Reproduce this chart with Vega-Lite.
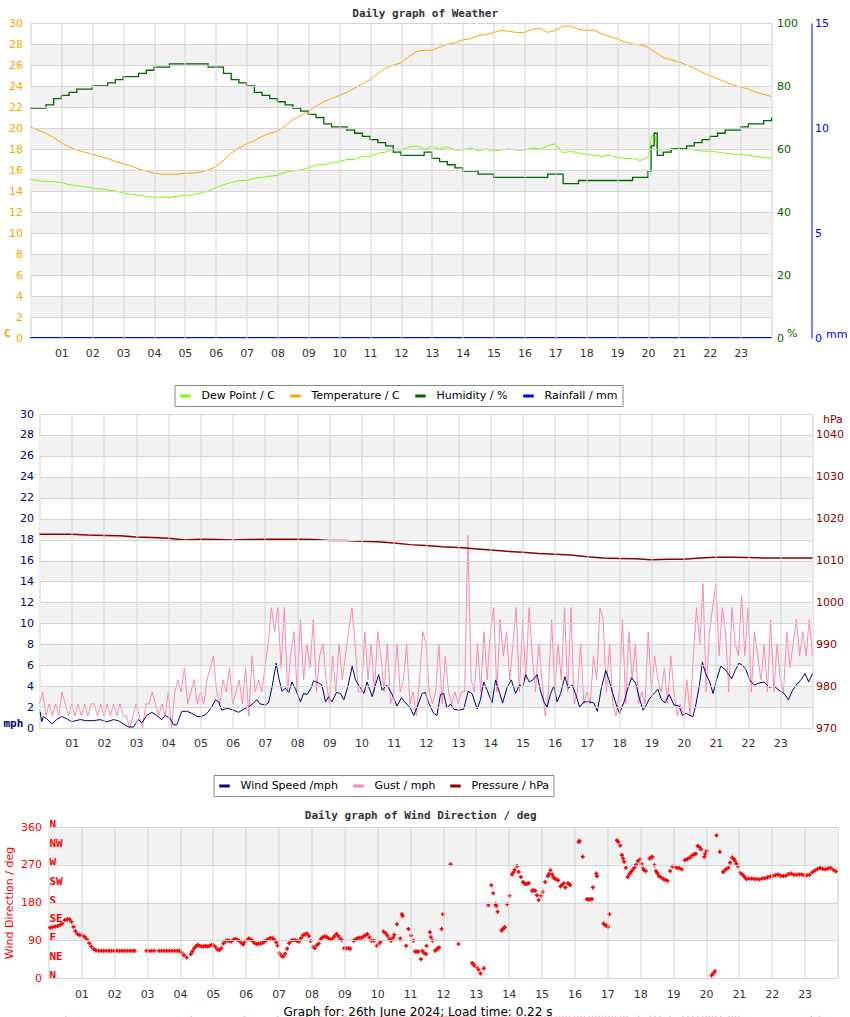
{
"$schema": "https://vega.github.io/schema/vega-lite/v6.json",
"padding": {"left": 1.5, "top": 7, "right": 0, "bottom": 0},
"config": {
  "view": {"stroke": "#cccccc"},
  "font": "DejaVu Sans",
  "axis": {"labelFont": "DejaVu Sans", "labelFontSize": 11, "titleFont": "DejaVu Sans", "titleFontSize": 11, "titleFontWeight": "normal", "ticks": false, "domain": false, "grid": false, "gridColor": "#d4d4d4", "labelColor": "#333333", "labelOverlap": false},
  "title": {"font": "DejaVu Sans Mono", "fontSize": 11, "fontWeight": "bold", "color": "#333333", "frame": "bounds", "offset": -2},
  "legend": {"strokeColor": "#888888", "fillColor": "#ffffff", "padding": 4, "symbolType": "stroke", "symbolStrokeWidth": 3, "symbolSize": 110, "labelFont": "DejaVu Sans", "labelFontSize": 11, "labelColor": "#000000", "columnPadding": 8, "labelOffset": 9}
},
"resolve": {"scale": {"color": "independent"}, "legend": {"color": "independent"}},
"datasets": {
  "bands": [{"lo":26,"hi":28},{"lo":22,"hi":24},{"lo":18,"hi":20},{"lo":14,"hi":16},{"lo":10,"hi":12},{"lo":6,"hi":8},{"lo":2,"hi":4}],
  "dirbands": [{"lo":270,"hi":360},{"lo":90,"hi":180}],
  "compass": [{"deg":0,"c":"N"},{"deg":45,"c":"NE"},{"deg":90,"c":"E"},{"deg":135,"c":"SE"},{"deg":180,"c":"S"},{"deg":225,"c":"SW"},{"deg":270,"c":"W"},{"deg":315,"c":"NW"},{"deg":360,"c":"N"}],
  "weather": [
{"h":0,"t":20.1,"d":15.1,"u":73,"r":0},{"h":0.25,"t":19.8,"d":15.0,"u":73,"r":0},{"h":0.5,"t":19.5,"d":14.9,"u":74,"r":0},{"h":0.75,"t":19.1,"d":14.9,"u":76,"r":0},
{"h":1,"t":18.6,"d":14.8,"u":77,"r":0},{"h":1.25,"t":18.2,"d":14.6,"u":78,"r":0},{"h":1.5,"t":17.9,"d":14.5,"u":79,"r":0},{"h":1.75,"t":17.7,"d":14.4,"u":79,"r":0},
{"h":2,"t":17.5,"d":14.3,"u":80,"r":0},{"h":2.25,"t":17.3,"d":14.2,"u":80,"r":0},{"h":2.5,"t":17.1,"d":14.1,"u":81,"r":0},{"h":2.75,"t":16.8,"d":14.0,"u":82,"r":0},
{"h":3,"t":16.6,"d":13.8,"u":83,"r":0},{"h":3.25,"t":16.4,"d":13.7,"u":83,"r":0},{"h":3.5,"t":16.1,"d":13.6,"u":84,"r":0},{"h":3.75,"t":15.9,"d":13.5,"u":85,"r":0},
{"h":4,"t":15.7,"d":13.4,"u":86,"r":0},{"h":4.25,"t":15.6,"d":13.4,"u":86,"r":0},{"h":4.5,"t":15.6,"d":13.4,"u":87,"r":0},{"h":4.75,"t":15.6,"d":13.5,"u":87,"r":0},
{"h":5,"t":15.7,"d":13.6,"u":87,"r":0},{"h":5.25,"t":15.7,"d":13.6,"u":87,"r":0},{"h":5.5,"t":15.8,"d":13.8,"u":87,"r":0},{"h":5.75,"t":16.0,"d":14.0,"u":86,"r":0},
{"h":6,"t":16.3,"d":14.3,"u":86,"r":0},{"h":6.25,"t":16.9,"d":14.6,"u":84,"r":0},{"h":6.5,"t":17.6,"d":14.8,"u":82,"r":0},{"h":6.75,"t":18.1,"d":15.0,"u":81,"r":0},
{"h":7,"t":18.5,"d":15.0,"u":80,"r":0},{"h":7.25,"t":18.8,"d":15.2,"u":78,"r":0},{"h":7.5,"t":19.2,"d":15.3,"u":77,"r":0},{"h":7.75,"t":19.5,"d":15.4,"u":76,"r":0},
{"h":8,"t":19.7,"d":15.5,"u":75,"r":0},{"h":8.25,"t":20.2,"d":15.8,"u":74,"r":0},{"h":8.5,"t":20.8,"d":15.9,"u":73,"r":0},{"h":8.75,"t":21.2,"d":16.0,"u":72,"r":0},
{"h":9,"t":21.6,"d":16.2,"u":71,"r":0},{"h":9.25,"t":22.1,"d":16.5,"u":70,"r":0},{"h":9.5,"t":22.5,"d":16.5,"u":68,"r":0},{"h":9.75,"t":22.8,"d":16.7,"u":67,"r":0},
{"h":10,"t":23.1,"d":16.8,"u":67,"r":0},{"h":10.25,"t":23.4,"d":17.0,"u":66,"r":0},{"h":10.5,"t":23.8,"d":17.0,"u":65,"r":0},{"h":10.75,"t":24.2,"d":17.3,"u":64,"r":0},
{"h":11,"t":24.6,"d":17.3,"u":63,"r":0},{"h":11.25,"t":25.2,"d":17.6,"u":62,"r":0},{"h":11.5,"t":25.7,"d":17.7,"u":61,"r":0},{"h":11.75,"t":26.0,"d":18.0,"u":59,"r":0},
{"h":12,"t":26.2,"d":17.9,"u":58,"r":0},{"h":12.25,"t":26.8,"d":18.2,"u":58,"r":0},{"h":12.5,"t":27.3,"d":18.3,"u":58,"r":0},{"h":12.75,"t":27.4,"d":18.0,"u":59,"r":0},
{"h":13,"t":27.4,"d":18.2,"u":57,"r":0},{"h":13.25,"t":27.7,"d":18.0,"u":56,"r":0},{"h":13.5,"t":28.0,"d":18.2,"u":55,"r":0},{"h":13.75,"t":28.1,"d":17.9,"u":54,"r":0},
{"h":14,"t":28.4,"d":17.9,"u":53,"r":0},{"h":14.25,"t":28.5,"d":18.1,"u":53,"r":0},{"h":14.5,"t":28.8,"d":17.8,"u":52,"r":0},{"h":14.75,"t":28.9,"d":18.0,"u":52,"r":0},
{"h":15,"t":29.1,"d":17.8,"u":51,"r":0},{"h":15.25,"t":29.3,"d":17.9,"u":51,"r":0},{"h":15.5,"t":29.2,"d":18.0,"u":51,"r":0},{"h":15.75,"t":29.1,"d":17.9,"u":51,"r":0},
{"h":16,"t":29.1,"d":17.9,"u":51,"r":0},{"h":16.25,"t":29.4,"d":18.1,"u":51,"r":0},{"h":16.5,"t":29.5,"d":18.0,"u":51,"r":0},{"h":16.75,"t":29.1,"d":18.3,"u":52,"r":0},
{"h":17,"t":29.3,"d":18.5,"u":52,"r":0},{"h":17.25,"t":29.7,"d":17.6,"u":49,"r":0},{"h":17.5,"t":29.7,"d":17.8,"u":49,"r":0},{"h":17.75,"t":29.4,"d":17.6,"u":50,"r":0},
{"h":18,"t":29.3,"d":17.5,"u":50,"r":0},{"h":18.25,"t":29.3,"d":17.4,"u":50,"r":0},{"h":18.5,"t":29.0,"d":17.3,"u":50,"r":0},{"h":18.75,"t":28.7,"d":17.4,"u":50,"r":0},
{"h":19,"t":28.5,"d":17.2,"u":50,"r":0},{"h":19.25,"t":28.2,"d":17.1,"u":50,"r":0},{"h":19.5,"t":28.0,"d":17.1,"u":51,"r":0},{"h":19.75,"t":27.9,"d":16.9,"u":51,"r":0},
{"h":20,"t":27.7,"d":17.2,"u":53,"r":0},{"h":20.1,"t":27.5,"d":19.0,"u":61,"r":0},{"h":20.2,"t":27.3,"d":19.6,"u":65,"r":0},{"h":20.3,"t":27.1,"d":18.0,"u":58,"r":0},
{"h":20.5,"t":26.7,"d":17.6,"u":59,"r":0},{"h":20.75,"t":26.5,"d":17.9,"u":60,"r":0},
{"h":21,"t":26.3,"d":18.1,"u":60,"r":0},{"h":21.25,"t":26.0,"d":18.0,"u":61,"r":0},{"h":21.5,"t":25.7,"d":17.9,"u":62,"r":0},{"h":21.75,"t":25.3,"d":17.8,"u":63,"r":0},
{"h":22,"t":25.0,"d":17.8,"u":64,"r":0},{"h":22.25,"t":24.7,"d":17.7,"u":65,"r":0},{"h":22.5,"t":24.4,"d":17.6,"u":66,"r":0},{"h":22.75,"t":24.1,"d":17.5,"u":66,"r":0},
{"h":23,"t":23.9,"d":17.5,"u":67,"r":0},{"h":23.25,"t":23.7,"d":17.4,"u":68,"r":0},{"h":23.5,"t":23.4,"d":17.3,"u":68,"r":0},{"h":23.75,"t":23.2,"d":17.2,"u":69,"r":0},
{"h":24,"t":23.0,"d":17.1,"u":70,"r":0}
  ],
  "wind": [
{"h":0.02,"w":1.56},{"h":0.07,"w":0.6},{"h":0.12,"w":1.1},{"h":0.22,"w":0.9},{"h":0.38,"w":0.4},{"h":0.53,"w":0.8},{"h":0.69,"w":1.1},{"h":0.84,"w":0.9},{"h":1.0,"w":0.6},{"h":1.26,"w":0.8},{"h":1.47,"w":0.7},{"h":1.67,"w":0.7},{"h":1.88,"w":0.8},{"h":2.09,"w":0.6},{"h":2.3,"w":0.8},{"h":2.45,"w":0.7},{"h":2.6,"w":0.4},{"h":2.76,"w":0.1},{"h":2.92,"w":0.1},{"h":3.07,"w":0.8},{"h":3.18,"w":0.5},{"h":3.33,"w":1.2},{"h":3.49,"w":1.5},{"h":3.64,"w":1.2},{"h":3.8,"w":0.8},{"h":3.9,"w":1.2},{"h":4.06,"w":0.9},{"h":4.16,"w":0.3},{"h":4.26,"w":0.3},{"h":4.42,"w":1.6},{"h":4.57,"w":1.6},{"h":4.73,"w":1.4},{"h":4.89,"w":1.1},{"h":5.04,"w":1.1},{"h":5.2,"w":1.4},{"h":5.35,"w":2.0},{"h":5.46,"w":2.7},{"h":5.56,"w":2.5},{"h":5.66,"w":1.7},{"h":5.82,"w":1.9},{"h":6.03,"w":1.7},{"h":6.18,"w":1.5},{"h":6.34,"w":1.8},{"h":6.49,"w":2.0},{"h":6.65,"w":2.4},{"h":6.75,"w":2.7},{"h":6.85,"w":2.3},{"h":7.01,"w":2.2},{"h":7.11,"w":2.4},{"h":7.22,"w":3.9},{"h":7.35,"w":6.2},{"h":7.42,"w":4.9},{"h":7.53,"w":3.5},{"h":7.63,"w":3.8},{"h":7.74,"w":3.4},{"h":7.84,"w":4.4},{"h":7.95,"w":3.7},{"h":8.1,"w":2.5},{"h":8.2,"w":3.3},{"h":8.31,"w":3.2},{"h":8.43,"w":3.8},{"h":8.51,"w":4.5},{"h":8.67,"w":4.3},{"h":8.77,"w":4.1},{"h":8.88,"w":2.5},{"h":8.98,"w":3.0},{"h":9.08,"w":2.5},{"h":9.22,"w":3.4},{"h":9.34,"w":3.3},{"h":9.45,"w":2.7},{"h":9.57,"w":3.9},{"h":9.71,"w":5.9},{"h":9.81,"w":4.6},{"h":9.95,"w":3.9},{"h":10.07,"w":3.3},{"h":10.17,"w":4.4},{"h":10.33,"w":3.0},{"h":10.43,"w":4.1},{"h":10.53,"w":5.1},{"h":10.64,"w":3.6},{"h":10.79,"w":4.1},{"h":10.95,"w":3.2},{"h":11.1,"w":2.1},{"h":11.24,"w":2.9},{"h":11.36,"w":2.4},{"h":11.5,"w":2.0},{"h":11.62,"w":1.2},{"h":11.75,"w":2.2},{"h":11.88,"w":3.3},{"h":11.98,"w":3.4},{"h":12.08,"w":2.4},{"h":12.24,"w":1.4},{"h":12.34,"w":1.2},{"h":12.45,"w":3.2},{"h":12.55,"w":3.3},{"h":12.65,"w":1.9},{"h":12.76,"w":2.3},{"h":12.86,"w":1.8},{"h":13.02,"w":1.7},{"h":13.17,"w":1.8},{"h":13.31,"w":3.5},{"h":13.43,"w":3.3},{"h":13.59,"w":1.8},{"h":13.69,"w":2.7},{"h":13.79,"w":4.4},{"h":13.9,"w":3.6},{"h":14.05,"w":2.4},{"h":14.16,"w":4.6},{"h":14.28,"w":3.4},{"h":14.38,"w":2.4},{"h":14.52,"w":3.9},{"h":14.65,"w":4.6},{"h":14.78,"w":3.3},{"h":14.9,"w":4.1},{"h":15.01,"w":3.9},{"h":15.09,"w":5.1},{"h":15.21,"w":4.4},{"h":15.32,"w":4.6},{"h":15.45,"w":5.1},{"h":15.55,"w":3.6},{"h":15.66,"w":2.5},{"h":15.76,"w":2.0},{"h":15.87,"w":3.3},{"h":15.97,"w":4.0},{"h":16.07,"w":2.5},{"h":16.18,"w":3.3},{"h":16.31,"w":4.9},{"h":16.42,"w":3.8},{"h":16.54,"w":4.1},{"h":16.64,"w":3.3},{"h":16.77,"w":2.0},{"h":16.9,"w":2.5},{"h":17.06,"w":2.5},{"h":17.21,"w":2.4},{"h":17.32,"w":1.6},{"h":17.45,"w":3.9},{"h":17.58,"w":5.5},{"h":17.68,"w":4.6},{"h":17.8,"w":3.3},{"h":17.91,"w":2.2},{"h":18.01,"w":1.4},{"h":18.15,"w":2.5},{"h":18.25,"w":3.6},{"h":18.38,"w":4.8},{"h":18.51,"w":4.3},{"h":18.63,"w":2.8},{"h":18.74,"w":1.7},{"h":18.84,"w":2.2},{"h":18.94,"w":2.8},{"h":19.08,"w":3.3},{"h":19.2,"w":3.7},{"h":19.31,"w":2.7},{"h":19.42,"w":2.4},{"h":19.55,"w":3.2},{"h":19.7,"w":2.2},{"h":19.86,"w":2.1},{"h":19.96,"w":1.2},{"h":20.08,"w":1.4},{"h":20.19,"w":1.2},{"h":20.29,"w":1.1},{"h":20.39,"w":2.4},{"h":20.5,"w":4.3},{"h":20.58,"w":6.3},{"h":20.68,"w":5.2},{"h":20.81,"w":4.4},{"h":20.91,"w":3.3},{"h":21.02,"w":4.6},{"h":21.15,"w":5.9},{"h":21.25,"w":5.7},{"h":21.36,"w":5.3},{"h":21.49,"w":4.7},{"h":21.6,"w":5.5},{"h":21.72,"w":6.2},{"h":21.82,"w":6.0},{"h":21.93,"w":5.6},{"h":22.05,"w":4.6},{"h":22.19,"w":4.1},{"h":22.34,"w":4.3},{"h":22.5,"w":4.4},{"h":22.65,"w":3.9},{"h":22.81,"w":4.0},{"h":22.96,"w":3.6},{"h":23.12,"w":3.3},{"h":23.25,"w":2.7},{"h":23.38,"w":3.6},{"h":23.5,"w":4.1},{"h":23.64,"w":4.6},{"h":23.77,"w":5.2},{"h":23.88,"w":4.4},{"h":24.0,"w":5.2}
  ],
  "gust": [
{"h":0.0,"g":2.3},{"h":0.1,"g":3.45},{"h":0.2,"g":1.15},{"h":0.3,"g":2.3},{"h":0.4,"g":1.15},{"h":0.5,"g":2.3},{"h":0.6,"g":1.15},{"h":0.7,"g":3.45},{"h":0.8,"g":2.3},{"h":0.9,"g":1.15},
{"h":1.0,"g":2.3},{"h":1.1,"g":1.15},{"h":1.2,"g":2.3},{"h":1.3,"g":1.15},{"h":1.4,"g":2.3},{"h":1.5,"g":1.15},{"h":1.6,"g":2.3},{"h":1.7,"g":2.3},{"h":1.8,"g":1.15},{"h":1.9,"g":2.3},
{"h":2.0,"g":1.15},{"h":2.1,"g":2.3},{"h":2.2,"g":1.15},{"h":2.3,"g":2.3},{"h":2.4,"g":1.15},{"h":2.5,"g":2.3},{"h":2.6,"g":1.15},{"h":2.7,"g":1.15},{"h":2.8,"g":0},{"h":2.9,"g":1.15},
{"h":3.0,"g":2.3},{"h":3.1,"g":1.15},{"h":3.2,"g":0},{"h":3.3,"g":2.3},{"h":3.4,"g":2.3},{"h":3.5,"g":3.45},{"h":3.6,"g":2.3},{"h":3.7,"g":1.15},{"h":3.8,"g":2.3},{"h":3.9,"g":1.15},
{"h":4.0,"g":3.45},{"h":4.1,"g":0},{"h":4.2,"g":3.45},{"h":4.3,"g":4.6},{"h":4.4,"g":3.45},{"h":4.5,"g":5.75},{"h":4.6,"g":2.3},{"h":4.7,"g":3.45},{"h":4.8,"g":4.6},{"h":4.9,"g":2.3},
{"h":5.0,"g":3.45},{"h":5.1,"g":2.3},{"h":5.2,"g":4.6},{"h":5.3,"g":5.75},{"h":5.4,"g":6.9},{"h":5.5,"g":3.45},{"h":5.6,"g":2.3},{"h":5.7,"g":4.6},{"h":5.8,"g":3.45},{"h":5.9,"g":5.75},
{"h":6.0,"g":2.3},{"h":6.1,"g":3.45},{"h":6.2,"g":4.6},{"h":6.3,"g":2.3},{"h":6.4,"g":5.75},{"h":6.5,"g":1.15},{"h":6.6,"g":6.9},{"h":6.7,"g":3.45},{"h":6.8,"g":4.6},{"h":6.9,"g":3.45},
{"h":7.0,"g":5.75},{"h":7.1,"g":8.05},{"h":7.2,"g":11.5},{"h":7.3,"g":9.2},{"h":7.4,"g":11.5},{"h":7.5,"g":5.75},{"h":7.6,"g":11.5},{"h":7.7,"g":3.45},{"h":7.8,"g":6.9},{"h":7.9,"g":9.2},
{"h":8.0,"g":3.45},{"h":8.1,"g":10.35},{"h":8.2,"g":4.6},{"h":8.3,"g":8.05},{"h":8.4,"g":5.75},{"h":8.5,"g":10.35},{"h":8.6,"g":3.45},{"h":8.7,"g":6.9},{"h":8.8,"g":8.05},{"h":8.9,"g":4.6},
{"h":9.0,"g":2.3},{"h":9.1,"g":6.9},{"h":9.2,"g":3.45},{"h":9.3,"g":8.05},{"h":9.4,"g":4.6},{"h":9.5,"g":6.9},{"h":9.6,"g":9.2},{"h":9.7,"g":11.5},{"h":9.8,"g":8.05},{"h":9.9,"g":3.45},
{"h":10.0,"g":3.45},{"h":10.1,"g":9.2},{"h":10.2,"g":4.6},{"h":10.3,"g":8.05},{"h":10.4,"g":3.45},{"h":10.5,"g":9.2},{"h":10.6,"g":6.9},{"h":10.7,"g":3.45},{"h":10.8,"g":8.05},{"h":10.9,"g":2.3},
{"h":11.0,"g":3.45},{"h":11.1,"g":8.05},{"h":11.2,"g":3.45},{"h":11.3,"g":4.6},{"h":11.4,"g":8.05},{"h":11.5,"g":2.3},{"h":11.6,"g":3.45},{"h":11.7,"g":1.15},{"h":11.8,"g":4.6},{"h":11.9,"g":9.2},
{"h":12.0,"g":8.05},{"h":12.1,"g":3.45},{"h":12.2,"g":2.3},{"h":12.3,"g":3.45},{"h":12.4,"g":8.05},{"h":12.5,"g":2.3},{"h":12.6,"g":6.9},{"h":12.7,"g":3.45},{"h":12.8,"g":2.3},{"h":12.9,"g":3.45},
{"h":13.0,"g":2.3},{"h":13.1,"g":3.45},{"h":13.2,"g":3.45},{"h":13.3,"g":18.4},{"h":13.4,"g":4.6},{"h":13.5,"g":3.45},{"h":13.6,"g":8.05},{"h":13.7,"g":3.45},{"h":13.8,"g":9.2},{"h":13.9,"g":4.6},
{"h":14.0,"g":9.2},{"h":14.1,"g":11.5},{"h":14.2,"g":3.45},{"h":14.3,"g":10.35},{"h":14.4,"g":6.9},{"h":14.5,"g":9.2},{"h":14.6,"g":4.6},{"h":14.7,"g":8.05},{"h":14.8,"g":11.5},{"h":14.9,"g":3.45},
{"h":15.0,"g":10.35},{"h":15.1,"g":4.6},{"h":15.2,"g":11.5},{"h":15.3,"g":6.9},{"h":15.4,"g":3.45},{"h":15.5,"g":8.05},{"h":15.6,"g":4.6},{"h":15.7,"g":1.15},{"h":15.8,"g":3.45},{"h":15.9,"g":10.35},
{"h":16.0,"g":3.45},{"h":16.1,"g":8.05},{"h":16.2,"g":4.6},{"h":16.3,"g":11.5},{"h":16.4,"g":3.45},{"h":16.5,"g":11.5},{"h":16.6,"g":2.3},{"h":16.7,"g":3.45},{"h":16.8,"g":8.05},{"h":16.9,"g":2.3},
{"h":17.0,"g":3.45},{"h":17.1,"g":2.3},{"h":17.2,"g":6.9},{"h":17.3,"g":4.6},{"h":17.4,"g":11.5},{"h":17.5,"g":10.35},{"h":17.6,"g":3.45},{"h":17.7,"g":8.05},{"h":17.8,"g":2.3},{"h":17.9,"g":1.15},
{"h":18.0,"g":3.45},{"h":18.1,"g":10.35},{"h":18.2,"g":2.3},{"h":18.3,"g":9.2},{"h":18.4,"g":4.6},{"h":18.5,"g":8.05},{"h":18.6,"g":2.3},{"h":18.7,"g":3.45},{"h":18.8,"g":2.3},{"h":18.9,"g":9.2},
{"h":19.0,"g":3.45},{"h":19.1,"g":6.9},{"h":19.2,"g":4.6},{"h":19.3,"g":3.45},{"h":19.4,"g":5.75},{"h":19.5,"g":2.3},{"h":19.6,"g":6.9},{"h":19.7,"g":3.45},{"h":19.8,"g":1.15},{"h":19.9,"g":2.3},
{"h":20.0,"g":1.15},{"h":20.1,"g":4.6},{"h":20.2,"g":1.15},{"h":20.3,"g":6.9},{"h":20.4,"g":11.5},{"h":20.5,"g":8.05},{"h":20.6,"g":13.8},{"h":20.7,"g":3.45},{"h":20.8,"g":9.2},{"h":20.9,"g":11.5},
{"h":21.0,"g":13.8},{"h":21.1,"g":6.9},{"h":21.2,"g":11.5},{"h":21.3,"g":9.2},{"h":21.4,"g":3.45},{"h":21.5,"g":11.5},{"h":21.6,"g":8.05},{"h":21.7,"g":6.9},{"h":21.8,"g":12.65},{"h":21.9,"g":6.9},
{"h":22.0,"g":11.5},{"h":22.1,"g":3.45},{"h":22.2,"g":9.2},{"h":22.3,"g":6.9},{"h":22.4,"g":4.6},{"h":22.5,"g":8.05},{"h":22.6,"g":3.45},{"h":22.7,"g":10.35},{"h":22.8,"g":3.45},{"h":22.9,"g":8.05},
{"h":23.0,"g":4.6},{"h":23.1,"g":3.45},{"h":23.2,"g":9.2},{"h":23.3,"g":5.75},{"h":23.4,"g":8.05},{"h":23.5,"g":10.35},{"h":23.6,"g":6.9},{"h":23.7,"g":9.2},{"h":23.8,"g":6.9},{"h":23.9,"g":10.35},{"h":24.0,"g":6.9}
  ],
  "press": [
{"h":0,"p":1016.3},{"h":0.5,"p":1016.3},{"h":1,"p":1016.3},{"h":1.5,"p":1016.1},{"h":2,"p":1016.0},{"h":2.5,"p":1015.9},{"h":3,"p":1015.6},{"h":3.5,"p":1015.5},{"h":4,"p":1015.3},{"h":4.5,"p":1014.9},{"h":5,"p":1015.1},{"h":5.5,"p":1015.0},{"h":6,"p":1014.9},{"h":6.5,"p":1015.0},{"h":7,"p":1015.1},{"h":7.5,"p":1015.1},{"h":8,"p":1015.1},{"h":8.5,"p":1015.0},{"h":9,"p":1014.8},{"h":9.5,"p":1014.8},{"h":10,"p":1014.6},{"h":10.5,"p":1014.5},{"h":11,"p":1014.2},{"h":11.5,"p":1013.8},{"h":12,"p":1013.6},{"h":12.5,"p":1013.3},{"h":13,"p":1013.1},{"h":13.5,"p":1012.8},{"h":14,"p":1012.5},{"h":14.5,"p":1012.2},{"h":15,"p":1012.0},{"h":15.5,"p":1011.7},{"h":16,"p":1011.5},{"h":16.5,"p":1011.3},{"h":17,"p":1010.9},{"h":17.5,"p":1010.6},{"h":18,"p":1010.5},{"h":18.5,"p":1010.4},{"h":19,"p":1010.2},{"h":19.5,"p":1010.3},{"h":20,"p":1010.3},{"h":20.5,"p":1010.6},{"h":21,"p":1010.8},{"h":21.5,"p":1010.8},{"h":22,"p":1010.7},{"h":22.5,"p":1010.6},{"h":23,"p":1010.6},{"h":23.5,"p":1010.6},{"h":24,"p":1010.6}
  ],
  "dir": [
{"h":0.05,"d":120},{"h":0.12,"d":121},{"h":0.2,"d":123},{"h":0.28,"d":124},{"h":0.36,"d":127},{"h":0.42,"d":130},{"h":0.5,"d":138},{"h":0.57,"d":140},{"h":0.64,"d":140},{"h":0.7,"d":134},{"h":0.76,"d":122},{"h":0.82,"d":112},{"h":0.88,"d":105},{"h":0.95,"d":102},{"h":1.02,"d":102},{"h":1.1,"d":98},{"h":1.17,"d":92},{"h":1.24,"d":83},{"h":1.3,"d":75},{"h":1.37,"d":69},{"h":1.44,"d":66},
{"h":1.52,"d":65},{"h":1.6,"d":65},{"h":1.68,"d":65},{"h":1.76,"d":65},{"h":1.84,"d":65},{"h":1.92,"d":65},{"h":2.0,"d":65},{"h":2.08,"d":65},{"h":2.16,"d":65},{"h":2.24,"d":65},{"h":2.32,"d":65},{"h":2.4,"d":65},{"h":2.48,"d":65},{"h":2.56,"d":65},{"h":2.62,"d":65},
{"h":2.98,"d":65},{"h":3.06,"d":65},{"h":3.14,"d":65},{"h":3.22,"d":65},{"h":3.36,"d":65},{"h":3.44,"d":65},{"h":3.52,"d":65},{"h":3.6,"d":65},{"h":3.68,"d":65},{"h":3.76,"d":65},{"h":3.84,"d":65},{"h":3.92,"d":65},{"h":3.98,"d":65},{"h":4.04,"d":61},{"h":4.12,"d":55},{"h":4.2,"d":49},
{"h":4.33,"d":57},{"h":4.38,"d":64},{"h":4.43,"d":71},{"h":4.49,"d":76},{"h":4.54,"d":79},{"h":4.6,"d":77},{"h":4.66,"d":75},{"h":4.72,"d":75},{"h":4.78,"d":76},{"h":4.84,"d":75},{"h":4.9,"d":77},{"h":4.96,"d":79},{"h":5.02,"d":78},{"h":5.08,"d":74},{"h":5.14,"d":68},{"h":5.2,"d":67},{"h":5.26,"d":71},{"h":5.32,"d":82},{"h":5.38,"d":87},{"h":5.44,"d":90},{"h":5.5,"d":88},{"h":5.56,"d":87},{"h":5.62,"d":91},{"h":5.68,"d":93},{"h":5.74,"d":91},{"h":5.8,"d":89},{"h":5.86,"d":84},{"h":5.92,"d":80},{"h":5.97,"d":86},{"h":6.03,"d":91},{"h":6.09,"d":94},{"h":6.15,"d":92},{"h":6.21,"d":88},{"h":6.27,"d":83},{"h":6.33,"d":81},{"h":6.39,"d":82},{"h":6.45,"d":82},{"h":6.51,"d":84},{"h":6.57,"d":87},{"h":6.63,"d":90},{"h":6.69,"d":93},{"h":6.75,"d":96},{"h":6.81,"d":95},{"h":6.87,"d":91},{"h":6.93,"d":85},{"h":6.97,"d":77},
{"h":7.02,"d":59},{"h":7.08,"d":53},{"h":7.14,"d":51},{"h":7.2,"d":58},{"h":7.26,"d":70},{"h":7.32,"d":83},{"h":7.38,"d":89},{"h":7.44,"d":90},{"h":7.5,"d":90},{"h":7.56,"d":88},{"h":7.62,"d":87},{"h":7.68,"d":95},{"h":7.74,"d":102},{"h":7.8,"d":104},{"h":7.86,"d":106},{"h":7.92,"d":100},{"h":7.98,"d":88},{"h":8.04,"d":74},{"h":8.1,"d":71},{"h":8.16,"d":78},{"h":8.22,"d":82},{"h":8.28,"d":93},{"h":8.34,"d":97},{"h":8.4,"d":99},{"h":8.46,"d":98},{"h":8.52,"d":94},{"h":8.58,"d":92},{"h":8.64,"d":94},{"h":8.7,"d":100},{"h":8.76,"d":105},{"h":8.82,"d":100},{"h":8.88,"d":93},{"h":8.92,"d":90},
{"h":8.99,"d":71},{"h":9.05,"d":71},{"h":9.12,"d":71},{"h":9.18,"d":70},{"h":9.28,"d":89},{"h":9.34,"d":92},{"h":9.4,"d":95},{"h":9.46,"d":96},{"h":9.52,"d":96},{"h":9.58,"d":99},{"h":9.64,"d":102},{"h":9.7,"d":105},{"h":9.76,"d":97},{"h":9.82,"d":89},{"h":9.9,"d":89},{"h":9.99,"d":77},{"h":10.05,"d":82},{"h":10.1,"d":86},{"h":10.19,"d":111},{"h":10.25,"d":107},{"h":10.31,"d":101},{"h":10.37,"d":93},{"h":10.42,"d":89},{"h":10.48,"d":96},{"h":10.52,"d":103},{"h":10.6,"d":128},{"h":10.7,"d":94},{"h":10.75,"d":152},{"h":10.77,"d":148},{"h":10.88,"d":77},{"h":10.95,"d":117},{"h":11.03,"d":101},{"h":11.1,"d":89},{"h":11.15,"d":63},{"h":11.2,"d":63},{"h":11.25,"d":63},{"h":11.33,"d":45},{"h":11.37,"d":65},{"h":11.42,"d":60},{"h":11.48,"d":57},{"h":11.5,"d":77},{"h":11.6,"d":109},{"h":11.63,"d":97},{"h":11.68,"d":89},{"h":11.76,"d":65},{"h":11.8,"d":68},{"h":11.85,"d":71},{"h":11.88,"d":73},{"h":11.96,"d":117},{"h":12.0,"d":152},
{"h":12.23,"d":271},{"h":12.47,"d":81},{"h":12.89,"d":36},{"h":12.93,"d":32},{"h":12.97,"d":29},{"h":13.02,"d":25},{"h":13.08,"d":20},{"h":13.14,"d":11},{"h":13.24,"d":23},{"h":13.38,"d":174},{"h":13.47,"d":221},{"h":13.53,"d":202},{"h":13.6,"d":176},{"h":13.62,"d":172},{"h":13.66,"d":158},{"h":13.78,"d":113},{"h":13.82,"d":117},{"h":13.86,"d":120},{"h":13.88,"d":121},{"h":13.96,"d":176},{"h":14.02,"d":196},
{"h":14.1,"d":247},{"h":14.14,"d":252},{"h":14.18,"d":258},{"h":14.25,"d":267},{"h":14.3,"d":253},{"h":14.37,"d":241},{"h":14.43,"d":229},{"h":14.47,"d":226},{"h":14.51,"d":224},{"h":14.56,"d":225},{"h":14.61,"d":226},{"h":14.71,"d":208},{"h":14.75,"d":209},{"h":14.81,"d":208},{"h":14.86,"d":197},{"h":14.91,"d":186},{"h":14.99,"d":196},{"h":15.03,"d":205},{"h":15.11,"d":229},{"h":15.19,"d":243},{"h":15.22,"d":248},{"h":15.27,"d":257},{"h":15.32,"d":247},{"h":15.36,"d":240},{"h":15.4,"d":237},{"h":15.45,"d":235},{"h":15.5,"d":233},{"h":15.57,"d":218},{"h":15.62,"d":222},{"h":15.67,"d":226},{"h":15.72,"d":216},{"h":15.8,"d":226},{"h":15.84,"d":224},{"h":15.87,"d":221},
{"h":16.13,"d":324},{"h":16.15,"d":327},{"h":16.25,"d":289},{"h":16.38,"d":188},{"h":16.42,"d":187},{"h":16.47,"d":188},{"h":16.53,"d":188},{"h":16.56,"d":216},{"h":16.66,"d":249},{"h":16.68,"d":243},{"h":16.88,"d":130},{"h":16.93,"d":126},{"h":16.97,"d":125},{"h":17.02,"d":122},{"h":17.06,"d":152},
{"h":17.29,"d":328},{"h":17.33,"d":325},{"h":17.39,"d":316},{"h":17.44,"d":293},{"h":17.48,"d":285},{"h":17.51,"d":277},{"h":17.56,"d":263},{"h":17.62,"d":241},{"h":17.67,"d":248},{"h":17.72,"d":253},{"h":17.77,"d":258},{"h":17.82,"d":263},{"h":17.87,"d":270},{"h":17.93,"d":279},{"h":18.0,"d":283},{"h":18.04,"d":272},{"h":18.08,"d":261},{"h":18.12,"d":257},{"h":18.17,"d":255},{"h":18.28,"d":285},{"h":18.33,"d":287},{"h":18.37,"d":289},{"h":18.43,"d":269},{"h":18.48,"d":255},{"h":18.52,"d":250},{"h":18.57,"d":243},{"h":18.63,"d":240},{"h":18.7,"d":236},{"h":18.76,"d":234},{"h":18.83,"d":232},
{"h":18.91,"d":255},{"h":18.98,"d":266},{"h":19.04,"d":265},{"h":19.11,"d":263},{"h":19.18,"d":262},{"h":19.26,"d":259},{"h":19.36,"d":281},{"h":19.43,"d":284},{"h":19.51,"d":287},{"h":19.58,"d":292},{"h":19.64,"d":295},{"h":19.69,"d":296},{"h":19.75,"d":315},{"h":19.8,"d":312},{"h":19.85,"d":307},{"h":19.95,"d":289},{"h":19.98,"d":296},{"h":20.02,"d":303},{"h":20.17,"d":6},{"h":20.22,"d":11},{"h":20.27,"d":16},{"h":20.32,"d":340},{"h":20.42,"d":301},
{"h":20.52,"d":253},{"h":20.57,"d":257},{"h":20.62,"d":260},{"h":20.68,"d":263},{"h":20.73,"d":275},{"h":20.8,"d":287},{"h":20.84,"d":284},{"h":20.88,"d":279},{"h":20.93,"d":272},{"h":20.98,"d":266},{"h":21.03,"d":251},{"h":21.08,"d":248},{"h":21.13,"d":245},{"h":21.18,"d":240},{"h":21.23,"d":236},{"h":21.31,"d":237},{"h":21.39,"d":237},{"h":21.47,"d":236},{"h":21.55,"d":236},{"h":21.63,"d":235},{"h":21.71,"d":237},{"h":21.79,"d":238},{"h":21.87,"d":240},{"h":21.95,"d":242},{"h":22.03,"d":243},{"h":22.11,"d":245},{"h":22.19,"d":247},{"h":22.27,"d":244},{"h":22.35,"d":243},{"h":22.43,"d":244},{"h":22.51,"d":248},{"h":22.59,"d":249},{"h":22.67,"d":246},{"h":22.75,"d":246},{"h":22.83,"d":247},{"h":22.91,"d":247},{"h":22.99,"d":245},{"h":23.07,"d":245},{"h":23.15,"d":246},{"h":23.23,"d":252},{"h":23.31,"d":256},{"h":23.39,"d":260},{"h":23.47,"d":262},{"h":23.55,"d":260},{"h":23.63,"d":259},{"h":23.71,"d":261},{"h":23.79,"d":263},{"h":23.87,"d":258},{"h":23.95,"d":254},
{"h":0.53,"d":-97},{"h":4.34,"d":-97},{"h":5.96,"d":-97},{"h":6.97,"d":-97},{"h":7.65,"d":-97},{"h":8.24,"d":-97},{"h":8.3,"d":-97},{"h":8.44,"d":-97},{"h":8.99,"d":-97},{"h":9.05,"d":-97},{"h":9.4,"d":-97},{"h":9.5,"d":-97},{"h":9.6,"d":-97},{"h":9.7,"d":-97},{"h":9.8,"d":-97},{"h":9.9,"d":-97},{"h":10.0,"d":-97},{"h":10.1,"d":-97},{"h":10.2,"d":-97},{"h":10.3,"d":-97},{"h":10.4,"d":-97},{"h":10.5,"d":-97},{"h":10.6,"d":-97},{"h":10.7,"d":-97},{"h":10.8,"d":-97},{"h":10.9,"d":-97},{"h":11.0,"d":-97},{"h":11.05,"d":-97},{"h":11.1,"d":-97},{"h":11.15,"d":-97},{"h":11.2,"d":-97},{"h":11.25,"d":-97},{"h":11.3,"d":-97},{"h":11.35,"d":-97},{"h":11.4,"d":-97},{"h":11.45,"d":-97},{"h":11.5,"d":-97},{"h":11.55,"d":-97},{"h":11.6,"d":-97},{"h":11.65,"d":-97},{"h":11.7,"d":-97},{"h":11.75,"d":-97},{"h":11.8,"d":-97},{"h":11.85,"d":-97},{"h":11.9,"d":-97},{"h":11.95,"d":-97},{"h":12.0,"d":-97},{"h":12.05,"d":-97},{"h":12.1,"d":-97},{"h":12.15,"d":-97},{"h":12.2,"d":-97},{"h":12.25,"d":-97},{"h":12.3,"d":-97},{"h":12.35,"d":-97},{"h":12.4,"d":-97},{"h":12.45,"d":-97},{"h":12.5,"d":-97},{"h":12.55,"d":-97},{"h":12.6,"d":-97},{"h":12.65,"d":-97},{"h":12.7,"d":-97},{"h":12.75,"d":-97},{"h":12.8,"d":-97},{"h":12.85,"d":-97},{"h":12.9,"d":-97},{"h":13.0,"d":-97},{"h":13.1,"d":-97},{"h":13.2,"d":-97},{"h":13.35,"d":-97},{"h":13.45,"d":-97},{"h":13.55,"d":-97},{"h":13.65,"d":-97},{"h":13.8,"d":-97},{"h":13.9,"d":-97},{"h":14.0,"d":-97},{"h":14.1,"d":-97},{"h":14.25,"d":-97},{"h":14.5,"d":-97},{"h":14.6,"d":-97},{"h":14.7,"d":-97},{"h":14.8,"d":-97},{"h":14.9,"d":-97},{"h":15.0,"d":-97},{"h":15.1,"d":-97},{"h":15.2,"d":-97},{"h":15.3,"d":-97},{"h":15.45,"d":-97},{"h":15.55,"d":-97},{"h":15.65,"d":-97},{"h":15.75,"d":-97},{"h":15.85,"d":-97},{"h":16.0,"d":-97},{"h":16.1,"d":-97},{"h":16.2,"d":-97},{"h":16.3,"d":-97},{"h":16.45,"d":-97},{"h":16.55,"d":-97},{"h":16.65,"d":-97},{"h":16.75,"d":-97},{"h":16.85,"d":-97},{"h":16.95,"d":-97},{"h":17.05,"d":-97},{"h":17.15,"d":-97},{"h":17.25,"d":-97},{"h":17.4,"d":-97},{"h":17.5,"d":-97},{"h":17.6,"d":-97},{"h":17.95,"d":-97},{"h":18.3,"d":-97},{"h":18.45,"d":-97},{"h":18.6,"d":-97},{"h":18.9,"d":-97},{"h":19.3,"d":-97},{"h":19.45,"d":-97},{"h":19.6,"d":-97},{"h":19.75,"d":-97},{"h":19.9,"d":-97},{"h":20.0,"d":-97},{"h":20.1,"d":-97},{"h":20.2,"d":-97},{"h":20.3,"d":-97},{"h":20.45,"d":-97},{"h":20.7,"d":-97},{"h":20.8,"d":-97},{"h":20.9,"d":-97},{"h":21.0,"d":-97},{"h":23.2,"d":-97},{"h":23.45,"d":-97}
  ]
},
"spacing": 0,
"vconcat": [
 {"spacing": 0, "hconcat": [
  {"width": 1, "height": 1, "view": {"stroke": null}, "data": {"values": [{}]}, "mark": {"type": "point", "opacity": 0, "size": 0}},
  {
    "width": 741, "height": 315,
    "title": {"text": "Daily graph of Weather"},
    "layer": [
      {"layer": [
        {"data": {"name": "bands"}, "mark": {"type": "rect", "color": "#f2f2f2"}, "encoding": {"x": {"datum": 0, "type": "quantitative", "scale": {"domain": [0, 24], "nice": false, "zero": false}}, "x2": {"datum": 24}, "y": {"field": "lo", "type": "quantitative", "scale": {"domain": [0, 30], "nice": false, "zero": false}, "axis": {"values": [0,2,4,6,8,10,12,14,16,18,20,22,24,26,28,30], "format": "d", "tickCount": 100, "labelOverlap": false, "grid": true, "labelColor": "#ffa500", "labelPadding": 8, "title": "C", "titleColor": "#ffa500", "titleFont": "DejaVu Sans Mono", "titleFontWeight": "bold", "titleAngle": 0, "titleAlign": "left", "titleBaseline": "middle", "titleX": -27, "titleY": 310, "zindex": 1}}, "y2": {"field": "hi"}}},
        {"data": {"name": "weather"}, "mark": {"type": "line", "strokeWidth": 1}, "encoding": {"x": {"field": "h", "type": "quantitative", "scale": {"domain": [0, 24], "nice": false, "zero": false}, "axis": {"values": [1,2,3,4,5,6,7,8,9,10,11,12,13,14,15,16,17,18,19,20,21,22,23], "tickCount": 100, "labelOverlap": false, "format": "02d", "grid": true, "labelPadding": 9, "title": null, "zindex": 1}}, "y": {"field": "t", "type": "quantitative"}, "color": {"datum": "Temperature / C", "type": "nominal", "scale": {"domain": ["Dew Point / C", "Temperature / C", "Humidity / %", "Rainfall / mm"], "range": ["#7cfc00", "#ffa500", "#006400", "#0000ff"]}, "legend": {"title": null, "orient": "none", "legendX": 173, "legendY": 362, "direction": "horizontal", "columns": 4}}}},
        {"data": {"name": "weather"}, "mark": {"type": "line", "strokeWidth": 1}, "encoding": {"x": {"field": "h", "type": "quantitative"}, "y": {"field": "d", "type": "quantitative"}, "color": {"datum": "Dew Point / C", "type": "nominal"}}}
      ]},
      {"data": {"name": "weather"}, "mark": {"type": "line", "interpolate": "step-after", "strokeWidth": 1.3}, "encoding": {"x": {"field": "h", "type": "quantitative"}, "y": {"field": "u", "type": "quantitative", "scale": {"domain": [0, 100], "nice": false, "zero": false}, "axis": {"orient": "right", "values": [0,20,40,60,80,100], "format": "d", "tickCount": 100, "labelOverlap": false, "labelColor": "#006400", "labelPadding": 5, "title": "%", "titleColor": "#006400", "titleAngle": 0, "titleAlign": "left", "titleBaseline": "middle", "titleX": 15, "titleY": 310}}, "color": {"datum": "Humidity / %", "type": "nominal"}}},
      {"data": {"name": "weather"}, "mark": {"type": "line", "strokeWidth": 2}, "encoding": {"x": {"field": "h", "type": "quantitative"}, "y": {"field": "r", "type": "quantitative", "scale": {"domain": [0, 15], "nice": false, "zero": false}, "axis": {"orient": "right", "offset": 40, "values": [0,5,10,15], "format": "d", "tickCount": 100, "labelOverlap": false, "domain": true, "domainColor": "#0000ff", "labelColor": "#0000ff", "labelPadding": 3, "title": "mm", "titleColor": "#0000ff", "titleAngle": 0, "titleAlign": "left", "titleBaseline": "middle", "titleX": 14, "titleY": 311}}, "color": {"datum": "Rainfall / mm", "type": "nominal"}}}
    ],
    "resolve": {"scale": {"y": "independent"}}
  }
 ]},
 {"spacing": 0, "hconcat": [
  {"width": 1, "height": 1, "view": {"stroke": null}, "data": {"values": [{}]}, "mark": {"type": "point", "opacity": 0, "size": 0}},
  {
    "width": 773, "height": 314,
    "layer": [
      {"layer": [
        {"data": {"name": "bands"}, "mark": {"type": "rect", "color": "#f2f2f2"}, "encoding": {"x": {"datum": 0, "type": "quantitative", "scale": {"domain": [0, 24], "nice": false, "zero": false}}, "x2": {"datum": 24}, "y": {"field": "lo", "type": "quantitative", "scale": {"domain": [0, 30], "nice": false, "zero": false}, "axis": {"values": [0,2,4,6,8,10,12,14,16,18,20,22,24,26,28,30], "format": "d", "tickCount": 100, "labelOverlap": false, "grid": true, "labelColor": "#000080", "labelPadding": 6, "title": "mph", "titleColor": "#000080", "titleFont": "DejaVu Sans Mono", "titleFontWeight": "bold", "titleAngle": 0, "titleAlign": "left", "titleBaseline": "middle", "titleX": -36.5, "titleY": 309, "zindex": 1}}, "y2": {"field": "hi"}}},
        {"data": {"name": "gust"}, "mark": {"type": "line", "strokeWidth": 1}, "encoding": {"x": {"field": "h", "type": "quantitative", "scale": {"domain": [0, 24], "nice": false, "zero": false}, "axis": {"values": [1,2,3,4,5,6,7,8,9,10,11,12,13,14,15,16,17,18,19,20,21,22,23], "tickCount": 100, "labelOverlap": false, "format": "02d", "grid": true, "labelPadding": 9, "title": " ", "titleX": 380, "titleY": 80, "titleBaseline": "bottom", "zindex": 1}}, "y": {"field": "g", "type": "quantitative"}, "color": {"datum": "Gust / mph", "type": "nominal", "scale": {"domain": ["Wind Speed /mph", "Gust / mph", "Pressure / hPa"], "range": ["#000080", "#ff88aa", "#8b0000"]}, "legend": {"title": null, "orient": "none", "legendX": 212, "legendY": 361, "direction": "horizontal", "columns": 3}}}},
        {"data": {"name": "wind"}, "mark": {"type": "line", "strokeWidth": 1}, "encoding": {"x": {"field": "h", "type": "quantitative"}, "y": {"field": "w", "type": "quantitative"}, "color": {"datum": "Wind Speed /mph", "type": "nominal"}}}
      ]},
      {"data": {"name": "press"}, "mark": {"type": "line", "strokeWidth": 1.5}, "encoding": {"x": {"field": "h", "type": "quantitative"}, "y": {"field": "p", "type": "quantitative", "scale": {"domain": [970, 1045], "nice": false, "zero": false}, "axis": {"orient": "right", "values": [970,980,990,1000,1010,1020,1030,1040], "tickCount": 100, "labelOverlap": false, "format": "d", "labelColor": "#8b0000", "labelPadding": 3, "title": "hPa", "titleColor": "#8b0000", "titleAngle": 0, "titleAlign": "left", "titleBaseline": "middle", "titleX": 10, "titleY": 5}}, "color": {"datum": "Pressure / hPa", "type": "nominal"}}}
    ],
    "resolve": {"scale": {"y": "independent"}}
  }
 ]},
 {"spacing": 0, "hconcat": [
  {"width": 1, "height": 1, "view": {"stroke": null}, "data": {"values": [{}]}, "mark": {"type": "point", "opacity": 0, "size": 0}},
  {
    "width": 789, "height": 151,
    "title": {"text": "Daily graph of Wind Direction / deg", "offset": -2},
    "layer": [
      {"data": {"name": "dirbands"}, "mark": {"type": "rect", "color": "#f2f2f2"}, "encoding": {"x": {"datum": 0, "type": "quantitative", "scale": {"domain": [0, 24], "nice": false, "zero": false}}, "x2": {"datum": 24}, "y": {"field": "lo", "type": "quantitative", "scale": {"domain": [0, 360], "nice": false, "zero": false}, "axis": {"values": [0,90,180,270,360], "format": "d", "tickCount": 100, "labelOverlap": false, "grid": true, "labelColor": "#ff0000", "labelPadding": 7, "title": "Wind Direction / deg", "titleColor": "#ff0000", "titlePadding": 6, "zindex": 1}}, "y2": {"field": "hi"}}},
      {"data": {"name": "compass"}, "mark": {"type": "text", "font": "DejaVu Sans Mono", "fontWeight": "bold", "fontSize": 11, "color": "#ff0000", "align": "left", "baseline": "middle", "dx": 1, "dy": -2}, "encoding": {"x": {"datum": 0, "type": "quantitative"}, "y": {"field": "deg", "type": "quantitative"}, "text": {"field": "c"}}},
      {"data": {"name": "dir"}, "mark": {"type": "point", "shape": "cross", "filled": true, "size": 16, "color": "#ff0000", "opacity": 1, "clip": false}, "encoding": {"x": {"field": "h", "type": "quantitative", "axis": {"values": [1,2,3,4,5,6,7,8,9,10,11,12,13,14,15,16,17,18,19,20,21,22,23], "tickCount": 100, "labelOverlap": false, "format": "02d", "grid": true, "labelPadding": 10, "title": "Graph for: 26th June 2024; Load time: 0.22 s", "titleColor": "#000000", "titleFontSize": 12, "titleX": 369, "titleY": 33, "titleAlign": "center", "titleBaseline": "middle", "zindex": 1}}, "y": {"field": "d", "type": "quantitative"}}}
    ]
  }
 ]}
]
}
